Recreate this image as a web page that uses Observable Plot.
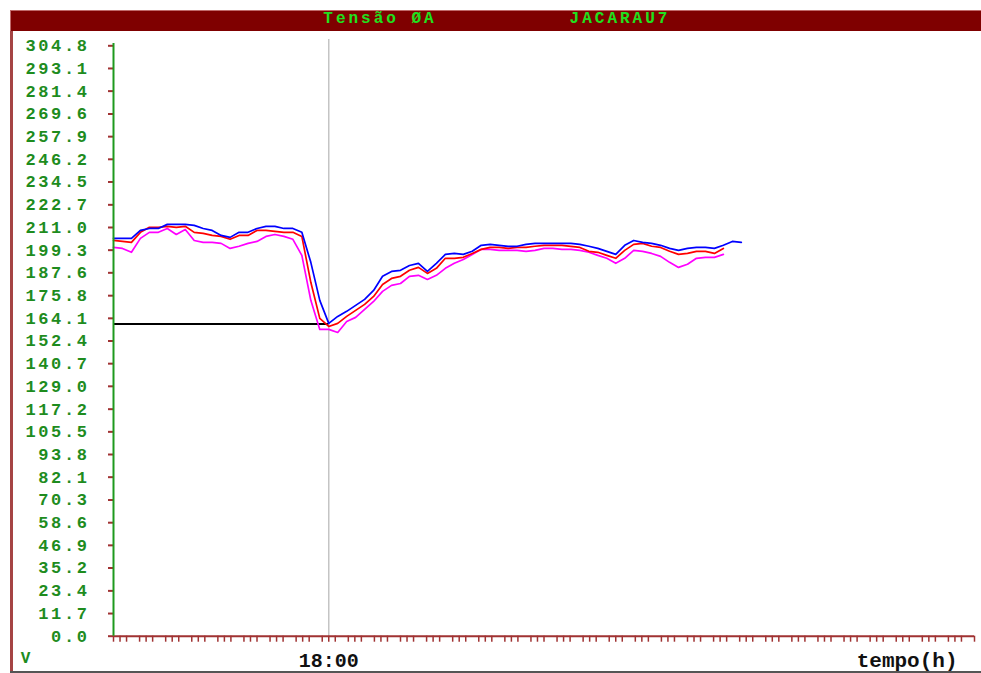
<!DOCTYPE html>
<html><head><meta charset="utf-8">
<script src="https://cdn.jsdelivr.net/npm/d3@7"></script>
<script src="https://cdn.jsdelivr.net/npm/@observablehq/plot@0.6"></script>
<style>
html,body{margin:0;padding:0;background:#fff;width:981px;height:673px;overflow:hidden;}
#bar{position:absolute;left:10px;top:10px;width:971px;height:21px;background:#7f0000;box-shadow:inset 1px 1px 0 #c06a6a;}
.tt{position:absolute;top:0;height:21px;line-height:22px;transform:translateX(-50%);color:#1fe01f;font:bold 16px "Liberation Mono",monospace;letter-spacing:3px;white-space:nowrap;}
#left{position:absolute;left:10px;top:31px;width:3px;height:640px;background:#a54444;}
#bottom{position:absolute;left:10px;top:671px;width:971px;height:2px;background:#555;}
#chart{position:absolute;left:0;top:31px;}
#chart g[aria-label="y-axis tick label"] text{letter-spacing:2.6px;}
</style>
</head><body>
<div id="bar"><span class="tt" style="left:370px">Tensão ØA</span><span class="tt" style="left:610px">JACARAU7</span></div>
<div id="left"></div>
<div id="bottom"></div>
<div id="chart"></div>
<script>
// time in minutes after 16:00
const times = [0,5,10,15,20,25,30,35,40,45,50,55,60,65,70,75,80,85,90,95,
  100,105,110,115,120,125,130,135,140,145,150,155,160,165,170,175,180,185,190,195,
  200,205,210,215,220,225,230,235,240,245,250,255,260,265,270,275,280,285,290,295,
  300,305,310,315,320,325,330,335,340,345,350];

const blue = [205.4,205.4,205.4,209.5,210.5,210.5,212.6,212.6,212.6,212.1,
  210.5,209.5,206.9,205.9,208.5,208.5,210.5,211.6,211.6,210.5,
  210.5,208.5,193.0,173.4,161.5,165.1,167.7,170.8,173.9,178.5,
  185.8,188.3,188.9,191.4,192.5,188.3,192.5,197.1,197.6,197.1,
  198.7,201.8,202.3,201.8,201.3,201.3,202.3,202.8,202.8,202.8,
  202.8,202.8,202.3,201.3,200.2,198.7,197.1,201.8,204.3,203.3,
  202.8,201.8,200.2,199.2,200.2,200.7,200.7,200.2,201.8,203.8,203.3];

const red = [204.3,203.8,203.3,208.5,211.1,211.1,211.6,211.1,211.6,208.5,
  208.0,206.9,206.4,204.9,206.9,206.9,209.5,209.5,209.0,208.5,
  208.5,206.4,182.7,164.1,159.9,161.5,165.1,168.2,171.3,175.4,
  181.6,184.7,185.8,188.9,190.4,187.3,189.9,195.1,195.1,195.6,
  197.6,199.7,200.7,200.7,200.2,200.7,200.7,201.3,201.8,201.8,
  201.8,201.3,200.7,198.7,198.2,196.6,195.1,199.2,202.3,202.8,
  201.3,200.7,198.7,197.1,197.6,198.7,198.7,197.6,200.2];

const magenta = [200.7,200.2,198.2,205.4,208.5,208.5,210.5,207.4,210.0,204.3,
  203.3,203.3,202.8,200.2,201.3,202.8,203.8,206.4,207.4,206.4,
  204.9,196.6,173.4,158.4,158.4,156.8,162.5,164.6,168.7,172.8,
  178.0,181.1,182.1,185.8,186.3,184.2,186.3,189.9,192.5,194.5,
  197.1,199.7,199.7,199.2,199.2,199.2,198.7,199.2,200.2,200.2,
  199.7,199.7,199.2,198.2,196.6,195.1,192.5,195.1,199.2,198.7,
  197.6,196.1,193.0,190.4,192.0,195.1,195.6,195.6,197.1];

const yTicks = [0.0,11.7,23.4,35.2,46.9,58.6,70.3,82.1,93.8,105.5,117.2,129.0,140.7,
  152.4,164.1,175.8,187.6,199.3,211.0,222.7,234.5,246.2,257.9,269.6,281.4,293.1,304.8];

const xLabelTicks = [120];
const xLabels = ["18:00"];
const cursorTime = 120;
const minValue = 161.2;

const seriesNames = ["magenta","red","blue"];
const seriesColors = ["#ff00ff","#ff0000","#0000ff"];
const seriesValues = [magenta, red, blue];

const rows = seriesNames.flatMap((name, si) =>
  seriesValues[si].map((v, i) => ({t: times[i], v, s: name})));

const tMax = 480, nGroups = 33;
const xMinor = d3.range(nGroups).flatMap(g => [0,1,2].map(j => (g + j/4) * tMax / nGroups)).concat([tMax]);

const darkRed = "#a03232", green = "#1e8c1e";

const chart = Plot.plot({
  width: 981, height: 642,
  marginTop: 14.3, marginBottom: 37.3, marginLeft: 113, marginRight: 7,
  x: {domain: [0, tMax]},
  y: {domain: [0, 304.8]},
  color: {domain: seriesNames, range: seriesColors},
  style: {background: "transparent", overflow: "visible", fontFamily: "'Liberation Mono', monospace"},
  marks: [
    Plot.ruleX([cursorTime], {y1: 0, y2: 308, stroke: "#c4c4c4", strokeWidth: 1.5}),
    Plot.ruleY([minValue], {x1: 0, x2: cursorTime, stroke: "#000", strokeWidth: 2}),
    Plot.line(rows, {x: "t", y: "v", z: "s", stroke: "s", strokeWidth: 1.7}),
    Plot.ruleY([0], {stroke: darkRed, strokeWidth: 2}),
    Plot.axisX({ticks: xMinor, tickSize: 6, fill: "none", stroke: darkRed, strokeWidth: 1.5, label: null}),
    Plot.axisX({ticks: xLabelTicks, tickSize: 0, tickPadding: 17,
      tickFormat: t => xLabels[xLabelTicks.indexOf(t)],
      fontSize: 20, fontWeight: "bold", fill: "#111", label: null}),
    Plot.axisY({ticks: yTicks, tickSize: 5, fill: "none", stroke: darkRed, strokeWidth: 2, label: null}),
    Plot.axisY({ticks: yTicks, tickSize: 0, tickPadding: 24, tickFormat: d => d.toFixed(1),
      fontSize: 17, fontWeight: "bold", fill: green, label: null}),
    Plot.ruleX([0], {y1: 0, y2: 306, stroke: "#1e9a1e", strokeWidth: 2}),
    Plot.text(["tempo(h)"], {frameAnchor: "bottom-right", lineAnchor: "middle", dx: -17, dy: 24, textAnchor: "end",
      fontSize: 21, fontWeight: "bold", fill: "#111"}),
    Plot.text(["V"], {frameAnchor: "bottom-left", lineAnchor: "middle", dx: -88, dy: 22, textAnchor: "middle",
      fontSize: 16, fontWeight: "bold", fill: green})
  ]
});
document.getElementById("chart").appendChild(chart);
</script>
</body></html>
